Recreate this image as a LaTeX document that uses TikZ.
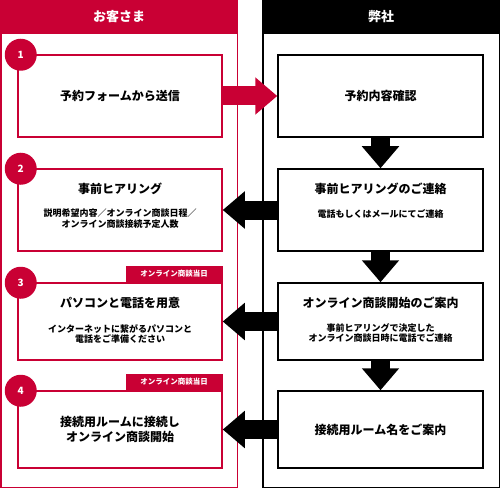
\documentclass[tikz,border=0pt]{standalone}
\usepackage{fontspec}
\setmainfont{Noto Sans CJK JP}
\usetikzlibrary{arrows.meta,positioning}
\definecolor{brandred}{RGB}{201,0,52}

\tikzset{
  colhead/.style={minimum width=238pt, minimum height=33pt, inner sep=0pt,
    text=white, font=\fontsize{13}{15}\selectfont\bfseries},
  custbox/.style={draw=brandred, line width=1.5pt, minimum width=204pt,
    inner sep=0pt, align=center, font=\fontsize{12}{15}\selectfont\bfseries},
  firmbox/.style={custbox, draw=black, minimum width=205pt},
  boxtitle/.style={inner sep=0pt, align=center,
    font=\fontsize{12}{15}\selectfont\bfseries},
  subtext/.style={inner sep=0pt, align=center,
    font=\fontsize{9}{10.5}\selectfont\bfseries},
  stepnum/.style={circle, fill=brandred, text=white, minimum size=32pt,
    inner sep=0pt, font=\fontsize{10}{12}\selectfont\bfseries},
  daytag/.style={fill=brandred, text=white, minimum width=97pt,
    minimum height=16pt, inner sep=0pt, anchor=south east,
    font=\fontsize{7.5}{9}\selectfont\bfseries},
  flow/.style={line width=19pt, -{Triangle[length=22pt 0 1, width=36pt 0 1]}},
}

\begin{document}
\begin{tikzpicture}[x=1pt, y=-1pt]
  \useasboundingbox (0,0) rectangle (500,489);
  % Column heads and frames
  \node[colhead, fill=brandred] (hcust) at (119,16.5) {お客さま};
  \node[colhead, fill=black] (hfirm) at (381,16.5) {弊社};
  \draw[brandred, line width=1.5pt] (0.75,33) rectangle (237.25,487.25);
  \draw[line width=1.5pt] (262.75,33) rectangle (499.25,487.25);
  % Customer steps
  \node[custbox, minimum height=82pt] (c1) at (120,96) {予約フォームから送信};
  \node[custbox, minimum height=82pt] (c2) at (120,210) {};
  \node[custbox, minimum height=77pt] (c3) at (120,321.5) {};
  \node[custbox, minimum height=77pt] (c4) at (120,429.5)
    {接続用ルームに接続し\\オンライン商談開始};
  \node[boxtitle] (t2) at ([yshift=-20.5pt]c2.north) {事前ヒアリング};
  \node[subtext, below=14pt of t2] (s2)
    {説明希望内容／オンライン商談日程／\\オンライン商談接続予定人数};
  \node[boxtitle] (t3) at ([yshift=-21pt]c3.north) {パソコンと電話を用意};
  \node[subtext, below=15pt of t3] (s3)
    {インターネットに繋がるパソコンと\\電話をご準備ください};
  \node[daytag] (tag3) at (c3.north east) {オンライン商談当日};
  \node[daytag] (tag4) at (c4.north east) {オンライン商談当日};
  % Step numbers
  \foreach \i in {1,...,4}
    \node[stepnum] (n\i) at ([shift={(3.5,0.5)}]c\i.north west) {\i};
  % Company steps
  \node[firmbox, minimum height=82pt] (f1) at (380.5,96) {予約内容確認};
  \node[firmbox, minimum height=82pt] (f2) at (380.5,210) {};
  \node[firmbox, minimum height=77pt] (f3) at (380.5,321.5) {};
  \node[firmbox, minimum height=77pt] (f4) at (380.5,429.5) {接続用ルーム名をご案内};
  \node[boxtitle] (u2) at ([yshift=-21pt]f2.north) {事前ヒアリングのご連絡};
  \node[subtext, below=14pt of u2] (v2) {電話もしくはメールにてご連絡};
  \node[boxtitle] (u3) at ([yshift=-21pt]f3.north) {オンライン商談開始のご案内};
  \node[subtext, below=14pt of u3] (v3)
    {事前ヒアリングで決定した\\オンライン商談日時に電話でご連絡};
  % Flow arrows
  \draw[flow, brandred] (c1) -- (f1);
  \foreach \i/\j in {1/2,2/3,3/4} \draw[flow] (f\i) -- (f\j);
  \foreach \i in {2,3,4} \draw[flow] (f\i) -- (c\i);
\end{tikzpicture}
\end{document}
